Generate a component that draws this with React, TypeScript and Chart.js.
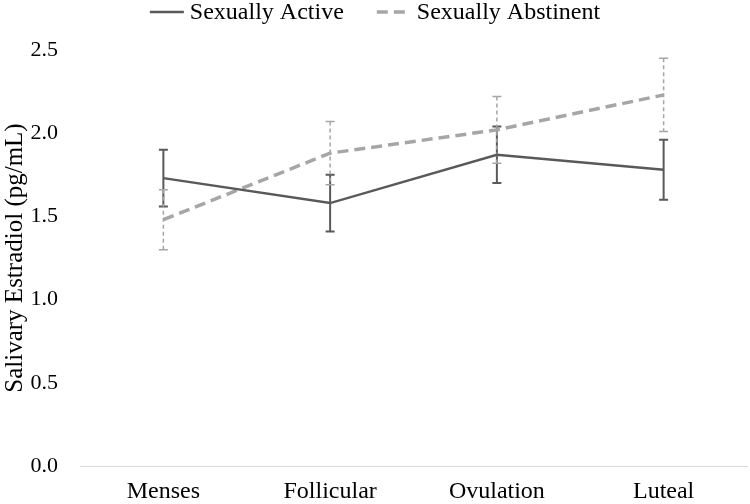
import React, { useEffect, useRef } from "react";
import { Chart, registerables } from "chart.js";

Chart.register(...registerables);

const categories = ["Menses", "Follicular", "Ovulation", "Luteal"];
const seriesNames = ["Sexually Active", "Sexually Abstinent"];
const activeMeans = [1.73, 1.58, 1.87, 1.78];
const activeErr = [0.17, 0.17, 0.17, 0.18];
const abstinentMeans = [1.48, 1.88, 2.02, 2.23];
const abstinentErr = [0.18, 0.19, 0.2, 0.22];
const yTicks = [0, 0.5, 1.0, 1.5, 2.0, 2.5];

const FONT = "'Liberation Serif', 'Times New Roman', serif";

const errorBarPlugin = {
  id: "errorBars",
  beforeDatasetsDraw(chart: any) {
    const ctx = chart.ctx;
    const yScale = chart.scales.y;
    chart.data.datasets.forEach((ds: any, di: number) => {
      const meta = chart.getDatasetMeta(di);
      const errs: number[] = ds.errors;
      if (!errs) return;
      ctx.save();
      ctx.strokeStyle = ds.errColor;
      ctx.lineWidth = ds.errWidth;
      meta.data.forEach((pt: any, i: number) => {
        const v = ds.data[i];
        const x = pt.x;
        const yTop = yScale.getPixelForValue(v + errs[i]);
        const yBot = yScale.getPixelForValue(v - errs[i]);
        ctx.setLineDash(ds.errDash);
        ctx.beginPath();
        ctx.moveTo(x, yTop);
        ctx.lineTo(x, yBot);
        ctx.stroke();
        ctx.setLineDash([]);
        ctx.beginPath();
        ctx.moveTo(x - 4.5, yTop);
        ctx.lineTo(x + 4.5, yTop);
        ctx.moveTo(x - 4.5, yBot);
        ctx.lineTo(x + 4.5, yBot);
        ctx.stroke();
      });
      ctx.restore();
    });
  },
};

const legendPlugin = {
  id: "customLegend",
  afterDraw(chart: any) {
    const ctx = chart.ctx;
    const y = 12;
    const sampleW = 34;
    const gap = 6;
    const itemGap = 33;
    ctx.save();
    ctx.font = `24px ${FONT}`;
    ctx.textBaseline = "middle";
    ctx.textAlign = "left";
    const widths = chart.data.datasets.map(
      (ds: any) => sampleW + gap + ctx.measureText(ds.label).width
    );
    const total = widths.reduce((a: number, b: number) => a + b, 0) + itemGap * (widths.length - 1);
    let x0 = chart.width / 2 - total / 2;
    chart.data.datasets.forEach((ds: any, i: number) => {
      ctx.strokeStyle = ds.borderColor;
      ctx.lineWidth = ds.borderWidth;
      ctx.setLineDash(ds.borderDash || []);
      ctx.lineCap = "butt";
      ctx.beginPath();
      ctx.moveTo(x0, y);
      ctx.lineTo(x0 + sampleW, y);
      ctx.stroke();
      ctx.setLineDash([]);
      ctx.fillStyle = "#000";
      ctx.fillText(ds.label, x0 + sampleW + gap, y + 1);
      x0 += widths[i] + itemGap;
    });
    ctx.restore();
  },
};

export default function App() {
  const ref = useRef<HTMLCanvasElement | null>(null);
  useEffect(() => {
    document.body.style.margin = "0";
    if (!ref.current) return;
    const chart = new Chart(ref.current, {
      type: "line",
      data: {
        labels: categories,
        datasets: [
          {
            label: seriesNames[0],
            data: activeMeans,
            borderColor: "#595959",
            backgroundColor: "#595959",
            borderWidth: 2.5,
            pointRadius: 0,
            tension: 0,
            errors: activeErr,
            errColor: "#595959",
            errWidth: 2,
            errDash: [],
          } as any,
          {
            label: seriesNames[1],
            data: abstinentMeans,
            borderColor: "#a6a6a6",
            backgroundColor: "#a6a6a6",
            borderWidth: 3.5,
            borderDash: [11, 6],
            pointRadius: 0,
            tension: 0,
            errors: abstinentErr,
            errColor: "#a6a6a6",
            errWidth: 1.5,
            errDash: [4, 3],
          } as any,
        ],
      },
      options: {
        animation: false,
        responsive: false,
        maintainAspectRatio: false,
        layout: { padding: { left: 0, right: 3, top: 50, bottom: 0 } },
        plugins: {
          legend: { display: false },
          tooltip: { enabled: false },
        },
        scales: {
          x: {
            type: "category",
            offset: true,
            grid: { display: false, drawTicks: false },
            border: { display: true, color: "#d9d9d9", width: 1 },
            ticks: { color: "#000", font: { family: FONT, size: 24 }, padding: 11 },
            afterFit: (axis: any) => {
              axis.height = 38;
            },
          },
          y: {
            min: 0,
            max: 2.5,
            afterBuildTicks: (axis: any) => {
              axis.ticks = yTicks.map((v) => ({ value: v }));
            },
            afterFit: (axis: any) => {
              axis.width = 80;
            },
            grid: { display: false, drawTicks: false },
            border: { display: false },
            ticks: {
              color: "#000",
              font: { family: FONT, size: 22 },
              padding: 22,
              callback: (v: any) => Number(v).toFixed(1),
            },
            title: {
              display: true,
              text: "Salivary Estradiol (pg/mL)",
              color: "#000",
              font: { family: FONT, size: 25 },
              padding: { top: 0, bottom: 0 },
            },
          },
        },
      },
      plugins: [errorBarPlugin, legendPlugin],
    });
    return () => chart.destroy();
  }, []);
  return (
    <div style={{ width: 750, height: 504 }}>
      <canvas ref={ref} width={750} height={504} style={{ width: 750, height: 504 }} />
    </div>
  );
}
